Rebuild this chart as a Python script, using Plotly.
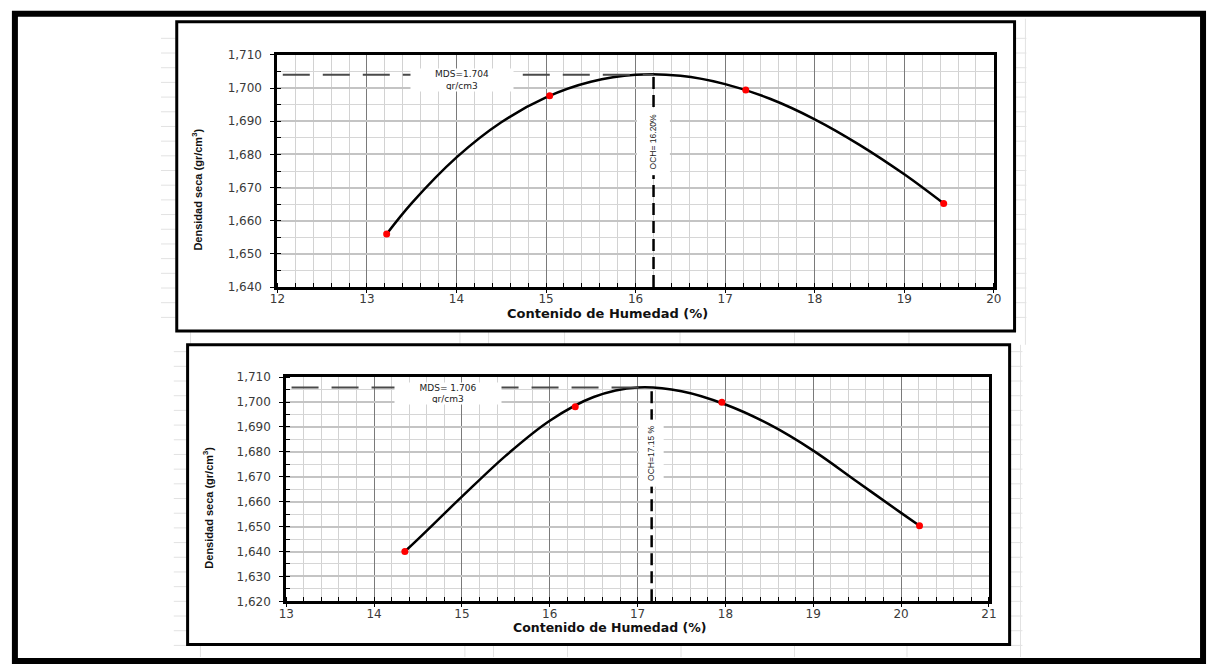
import plotly.graph_objects as go

W, H = 1214, 671

# ---------------- data: chart 1 (top) ----------------
hum1 = [13.22, 15.04, 17.23, 19.44]
dens1 = [1.6560, 1.6977, 1.6994, 1.6652]
# smooth fitted curve
curve1_x = [13.22, 13.5, 14.0, 14.5, 15.0, 15.5, 16.0, 16.5, 17.0, 17.5, 18.0, 18.5, 19.0, 19.44]
curve1_y = [1.6560, 1.6653, 1.6791, 1.6897, 1.6972, 1.7019, 1.7040, 1.7037, 1.7012, 1.6968,
            1.6906, 1.6829, 1.6740, 1.6652]
mds1 = 1.7040
och1 = 16.20
mds1_label = "MDS=1.704<br>gr/cm3"
och1_label = "OCH= 16.20%"
x1_range = [12, 20]
y1_range = [1.640, 1.710]

# ---------------- data: chart 2 (bottom) ----------------
hum2 = [14.35, 16.29, 17.96, 20.21]
dens2 = [1.6400, 1.6981, 1.6999, 1.6503]
curve2_x = [14.35, 14.5, 15.0, 15.5, 16.0, 16.5, 17.0, 17.5, 18.0, 18.5, 19.0, 19.5, 20.0, 20.21]
curve2_y = [1.6400, 1.6450, 1.6620, 1.6785, 1.6925, 1.7020, 1.7058, 1.7043, 1.6990, 1.6910,
            1.6805, 1.6680, 1.6555, 1.6503]
mds2 = 1.7058
och2 = 17.16
mds2_label = "MDS= 1.706<br>gr/cm3"
och2_label = "OCH=17.15 %"
x2_range = [13, 21]
y2_range = [1.620, 1.710]

x_title = "Contenido de Humedad (%)"
y_title = "Densidad seca (gr/cm<sup>3</sup>)"


def px(x):
    return x / W


def py(y):
    return 1 - y / H


fig = go.Figure()

for (cx, cy, hx, dy, xa, ya) in [
    (curve1_x, curve1_y, hum1, dens1, "x", "y"),
    (curve2_x, curve2_y, hum2, dens2, "x2", "y2"),
]:
    fig.add_trace(go.Scatter(x=cx, y=cy, mode="lines", xaxis=xa, yaxis=ya,
                             line=dict(color="black", width=2.5, shape="spline", smoothing=1.0),
                             hoverinfo="skip", showlegend=False))
    fig.add_trace(go.Scatter(x=hx, y=dy, mode="markers", xaxis=xa, yaxis=ya,
                             marker=dict(color="#ff0000", size=7, line=dict(width=0)),
                             showlegend=False))

tickfont = dict(family="DejaVu Sans, Liberation Sans, Arial", size=12, color="#3a3a3a")


def xaxis(domain, rng, anchor):
    return dict(domain=domain, range=rng, anchor=anchor, dtick=1, tick0=rng[0],
                showgrid=True, gridcolor="#7a7a7a", gridwidth=1,
                minor=dict(dtick=0.2, showgrid=True, gridcolor="#d2d2d2", gridwidth=1,
                           ticks="inside", ticklen=4, tickcolor="black", tickwidth=1),
                ticks="outside", ticklen=3, tickcolor="black", tickwidth=1,
                ticklabelstandoff=-4,
                showline=True, linewidth=3, linecolor="black", mirror=True,
                zeroline=False, tickfont=tickfont, fixedrange=True)


def yaxis(domain, rng, anchor):
    return dict(domain=domain, range=rng, anchor=anchor, dtick=0.01, tick0=rng[0],
                tickformat=".3f",
                showgrid=True, gridcolor="#c4c4c4", gridwidth=1.5,
                minor=dict(dtick=0.005, showgrid=True, gridcolor="#d6d6d6", gridwidth=1,
                           ticks="inside", ticklen=4, tickcolor="black", tickwidth=1),
                ticks="outside", ticklen=4, tickcolor="black", tickwidth=1,
                ticklabelstandoff=6,
                showline=True, linewidth=3, linecolor="black", mirror=True,
                zeroline=False, tickfont=tickfont, fixedrange=True)


shapes = []
# outer black border
shapes.append(dict(type="rect", xref="paper", yref="paper", x0=px(7), x1=px(1211), y0=py(7), y1=py(668),
                   line=dict(color="black", width=6), layer="below"))
# faint spreadsheet lines
faint = dict(color="#e2e2e2", width=1)
for k in range(21):
    yy = 32 + 15 * k
    if yy < 330:
        shapes.append(dict(type="line", xref="paper", yref="paper", x0=px(155), x1=px(170),
                           y0=py(yy), y1=py(yy), line=faint, layer="below"))
        shapes.append(dict(type="line", xref="paper", yref="paper", x0=px(1020), x1=px(1032),
                           y0=py(yy), y1=py(yy), line=faint, layer="below"))
for k in range(21):
    yy = 352 + 15 * k
    if yy < 662:
        shapes.append(dict(type="line", xref="paper", yref="paper", x0=px(168), x1=px(182),
                           y0=py(yy), y1=py(yy), line=faint, layer="below"))
        shapes.append(dict(type="line", xref="paper", yref="paper", x0=px(1015), x1=px(1028),
                           y0=py(yy), y1=py(yy), line=faint, layer="below"))
shapes.append(dict(type="line", xref="paper", yref="paper", x0=px(1031), x1=px(1031),
                   y0=py(12), y1=py(345), line=faint, layer="below"))
shapes.append(dict(type="line", xref="paper", yref="paper", x0=px(1026), x1=px(1026),
                   y0=py(345), y1=py(664), line=faint, layer="below"))
for xx in [185, 458, 487, 564, 681, 797, 913]:
    shapes.append(dict(type="line", xref="paper", yref="paper", x0=px(xx), x1=px(xx),
                       y0=py(331), y1=py(345), line=faint, layer="below"))
for xx in [195, 463, 492, 567, 682, 797, 911]:
    shapes.append(dict(type="line", xref="paper", yref="paper", x0=px(xx), x1=px(xx),
                       y0=py(651), y1=py(664), line=faint, layer="below"))
# chart frames
shapes.append(dict(type="rect", xref="paper", yref="paper", x0=px(171), x1=px(1020), y0=py(15), y1=py(331),
                   line=dict(color="black", width=3), layer="below"))
shapes.append(dict(type="rect", xref="paper", yref="paper", x0=px(182), x1=px(1015), y0=py(345), y1=py(651),
                   line=dict(color="black", width=3), layer="below"))

# reference dashed lines
for (xr, yr, mds, och, xa, ya) in [
    (x1_range, y1_range, mds1, och1, "x", "y"),
    (x2_range, y2_range, mds2, och2, "x2", "y2"),
]:
    shapes.append(dict(type="line", xref=xa, yref=ya, x0=xr[0] + 0.06, x1=och, y0=mds, y1=mds,
                       line=dict(color="#4a4a4a", width=2, dash="27px,13px"), layer="above"))
    shapes.append(dict(type="line", xref=xa, yref=ya, x0=och, x1=och, y0=yr[0], y1=mds,
                       line=dict(color="black", width=2.5, dash="12px,6px"), layer="above"))

small = dict(family="DejaVu Sans, Liberation Sans, Arial", size=9, color="#222")
narrow = dict(family="Liberation Sans, Arial", size=8.5, color="#222")
titlefont = dict(family="DejaVu Sans, Liberation Sans, Arial", size=13, color="#111", weight="bold")
titlefont2 = dict(family="DejaVu Sans, Liberation Sans, Arial", size=12.5, color="#111", weight="bold")
ytitlefont = dict(family="Liberation Sans, Arial", size=11, color="#111", weight="bold")

C = dict(xanchor="center", yanchor="middle", showarrow=False)
annotations = [
    # MDS labels
    dict(xref="paper", yref="paper", x=px(460), y=py(75), text=mds1_label,
         font=small, bgcolor="white", width=100, height=20, align="center", **C),
    dict(xref="paper", yref="paper", x=px(446), y=py(395), text=mds2_label,
         font=small, bgcolor="white", width=104, height=19, align="center", **C),
    # OCH labels
    dict(xref="x", yref="paper", x=och1, y=py(138), text=och1_label, textangle=-90,
         font=narrow, bgcolor="white", width=64, height=30, **C),
    dict(xref="x2", yref="paper", x=och2, y=py(456), text=och2_label, textangle=-90,
         font=narrow, bgcolor="white", width=64, height=22, **C),
    # axis titles
    dict(xref="paper", yref="paper", x=px(608), y=py(313), text=x_title, font=titlefont, **C),
    dict(xref="paper", yref="paper", x=px(610), y=py(634), text=x_title, font=titlefont2, **C),
    dict(xref="paper", yref="paper", x=px(192), y=py(186), text=y_title, textangle=-90,
         font=ytitlefont, **C),
    dict(xref="paper", yref="paper", x=px(203), y=py(511), text=y_title, textangle=-90,
         font=ytitlefont, **C),
]

fig.update_layout(
    width=W, height=H, margin=dict(l=0, r=0, t=0, b=0),
    paper_bgcolor="white", plot_bgcolor="white",
    separators=",.",
    showlegend=False,
    xaxis=xaxis([px(273), px(999)], x1_range, "y"),
    yaxis=yaxis([py(286), py(49)], y1_range, "x"),
    xaxis2=xaxis([px(282), px(994)], x2_range, "y2"),
    yaxis2=yaxis([py(607), py(378)], y2_range, "x2"),
    shapes=shapes,
    annotations=annotations,
)

fig.write_html("out.html", config={"displayModeBar": False})
